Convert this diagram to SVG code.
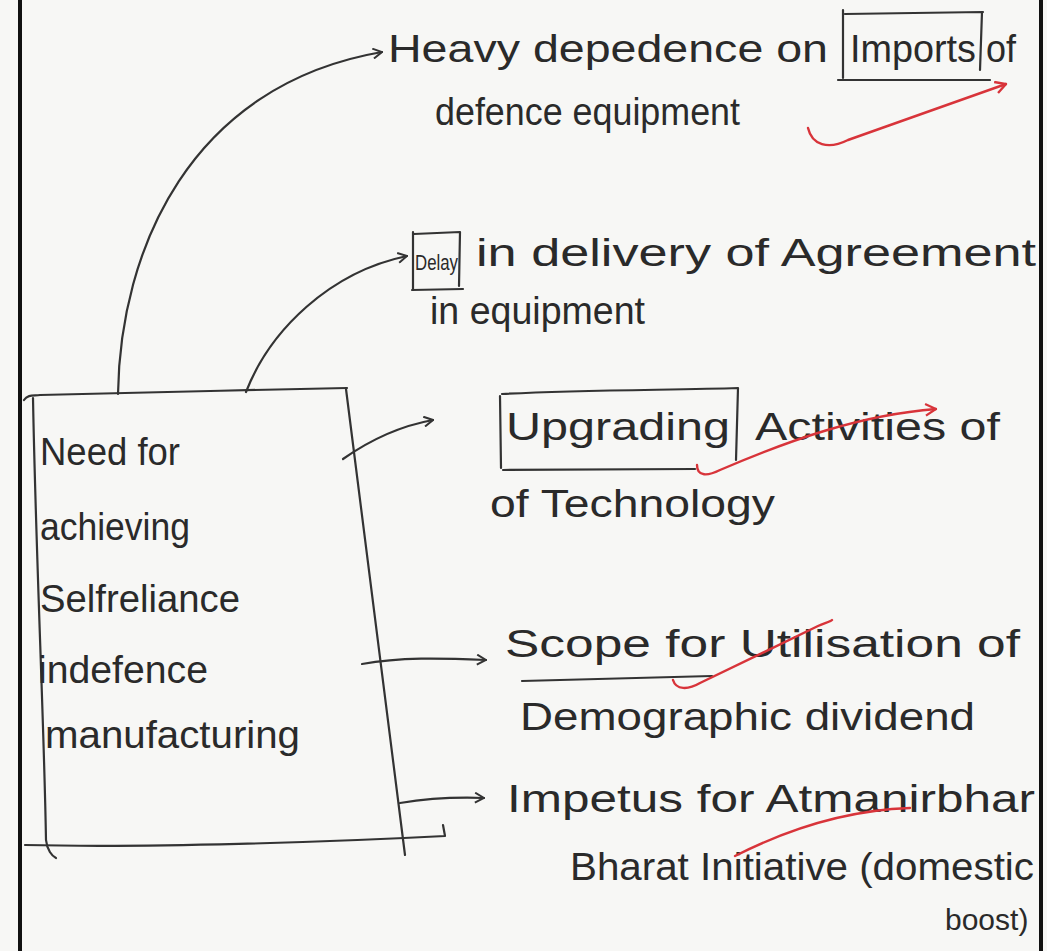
<svg xmlns="http://www.w3.org/2000/svg" width="1047" height="951" viewBox="0 0 1047 951">
  <defs>
    <style>
      .hand { font-family: "Liberation Sans", "DejaVu Sans", sans-serif; font-size: 38px; fill: #2a2a2a; }
      .ink { fill: none; stroke: #333; stroke-width: 2.2; stroke-linecap: round; stroke-linejoin: round; }
      .red { fill: none; stroke: #d8343a; stroke-width: 2.4; stroke-linecap: round; stroke-linejoin: round; }
      .border { stroke: #111; stroke-width: 4; }
    </style>
    <marker id="head" viewBox="0 0 12 12" refX="11" refY="6" markerWidth="12" markerHeight="12" markerUnits="userSpaceOnUse" orient="auto">
      <path d="M2,1 L11,6 L2,11" fill="none" stroke="#333" stroke-width="2"/>
    </marker>
    <marker id="headRed" viewBox="0 0 12 12" refX="11" refY="6" markerWidth="14" markerHeight="14" markerUnits="userSpaceOnUse" orient="auto">
      <path d="M2,1 L11,6 L2,11" fill="none" stroke="#d8343a" stroke-width="2"/>
    </marker>
  </defs>

  <!-- sheet -->
  <rect x="0" y="0" width="1047" height="951" fill="#f7f7f5"/>
  <line class="border" x1="20" y1="0" x2="20" y2="951"/>
  <line class="border" x1="1041" y1="0" x2="1041" y2="951"/>

  <!-- central box -->
  <g id="need-box">
    <path class="ink" d="M24,400 C28,394 34,396 40,395 C120,393 250,390 347,388"/>
    <path class="ink" d="M33,398 C36,560 44,720 46,840 C47,850 52,856 56,858"/>
    <path class="ink" d="M346,389 L405,855"/>
    <path class="ink" d="M25,845 C150,848 330,842 445,836 L443,825"/>
    <text class="hand" x="40" y="465" textLength="140" lengthAdjust="spacingAndGlyphs">Need for</text>
    <text class="hand" x="40" y="540" textLength="150" lengthAdjust="spacingAndGlyphs">achieving</text>
    <text class="hand" x="40" y="612" textLength="200" lengthAdjust="spacingAndGlyphs">Selfreliance</text>
    <text class="hand" x="38" y="683" textLength="170" lengthAdjust="spacingAndGlyphs">indefence</text>
    <text class="hand" x="45" y="748" textLength="255" lengthAdjust="spacingAndGlyphs">manufacturing</text>
  </g>

  <!-- connectors -->
  <g id="connectors">
    <path class="ink" d="M118,394 C120,250 190,85 382,52" marker-end="url(#head)"/>
    <path class="ink" d="M246,392 C270,330 330,272 407,256" marker-end="url(#head)"/>
    <path class="ink" d="M343,459 C370,440 400,426 433,420" marker-end="url(#head)"/>
    <path class="ink" d="M362,664 C400,657 440,658 486,660" marker-end="url(#head)"/>
    <path class="ink" d="M400,803 C430,798 455,797 484,798" marker-end="url(#head)"/>
  </g>

  <!-- point 1 -->
  <g id="imports">
    <text class="hand" x="388" y="62" textLength="440" lengthAdjust="spacingAndGlyphs">Heavy depedence on</text>
    <path class="ink" d="M845,14 L983,12 M843,10 L843,78 M982,12 L980,70 M838,80 L990,80"/>
    <text class="hand" x="850" y="62" textLength="126" lengthAdjust="spacingAndGlyphs">Imports</text>
    <text class="hand" x="986" y="62" textLength="30" lengthAdjust="spacingAndGlyphs">of</text>
    <text class="hand" x="435" y="125" textLength="305" lengthAdjust="spacingAndGlyphs">defence equipment</text>
    <path class="red" d="M808,128 C812,145 828,150 848,140 L1006,84" marker-end="url(#headRed)"/>
  </g>

  <!-- point 2 -->
  <g id="delay">
    <path class="ink" d="M414,234 L460,232 M413,232 L413,290 M460,232 L459,286 M412,290 L463,289"/>
    <text class="hand" x="415" y="270" style="font-size:22px" textLength="43" lengthAdjust="spacingAndGlyphs">Delay</text>
    <text class="hand" x="476" y="266" textLength="560" lengthAdjust="spacingAndGlyphs">in delivery of Agreement</text>
    <text class="hand" x="430" y="324" textLength="215" lengthAdjust="spacingAndGlyphs">in equipment</text>
  </g>

  <!-- point 3 -->
  <g id="upgrading">
    <path class="ink" d="M502,394 C580,390 680,390 738,388 M500,396 L501,468 M738,388 L736,460 M503,470 L695,469"/>
    <text class="hand" x="506" y="440" textLength="224" lengthAdjust="spacingAndGlyphs">Upgrading</text>
    <text class="hand" x="755" y="440" textLength="245" lengthAdjust="spacingAndGlyphs">Activities of</text>
    <text class="hand" x="490" y="517" textLength="285" lengthAdjust="spacingAndGlyphs">of Technology</text>
    <path class="red" d="M697,465 C697,477 708,476 720,470 C790,440 860,415 936,409" marker-end="url(#headRed)"/>
  </g>

  <!-- point 4 -->
  <g id="scope">
    <text class="hand" x="505" y="657" textLength="515" lengthAdjust="spacingAndGlyphs">Scope for Utilisation of</text>
    <path class="ink" d="M522,681 L712,676"/>
    <text class="hand" x="520" y="730" textLength="455" lengthAdjust="spacingAndGlyphs">Demographic dividend</text>
    <path class="red" d="M673,680 C676,690 688,690 700,683 L818,626 C824,623 830,622 832,620"/>
  </g>

  <!-- point 5 -->
  <g id="impetus">
    <text class="hand" x="507" y="812" textLength="528" lengthAdjust="spacingAndGlyphs">Impetus for Atmanirbhar</text>
    <text class="hand" x="570" y="880" textLength="464" lengthAdjust="spacingAndGlyphs">Bharat Initiative (domestic</text>
    <text class="hand" x="945" y="930" style="font-size:30px">boost)</text>
    <path class="red" d="M735,856 C790,828 850,810 910,808"/>
  </g>
</svg>
